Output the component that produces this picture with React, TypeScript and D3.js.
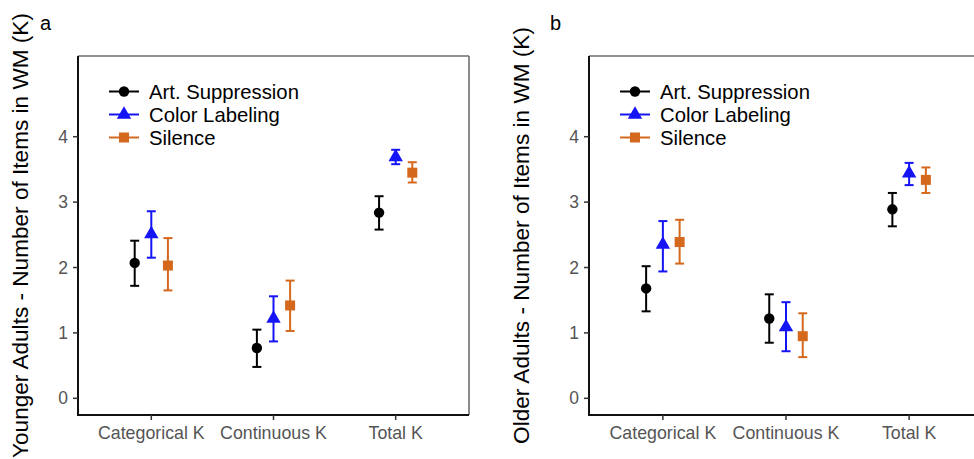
import React from "react";
import * as d3 from "d3";

const categories = ["Categorical K", "Continuous K", "Total K"];
const conditions = ["Art. Suppression", "Color Labeling", "Silence"];
const yTicks = [0, 1, 2, 3, 4];

// Younger adults: mean, lower, upper per condition (rows) x category (cols)
const youngMean = [
  [2.07, 0.77, 2.84],
  [2.51, 1.22, 3.69],
  [2.03, 1.42, 3.45],
];
const youngLow = [
  [1.72, 0.48, 2.58],
  [2.15, 0.87, 3.58],
  [1.65, 1.03, 3.30],
];
const youngHigh = [
  [2.41, 1.05, 3.09],
  [2.86, 1.56, 3.80],
  [2.45, 1.80, 3.61],
];
// Older adults
const oldMean = [
  [1.68, 1.22, 2.89],
  [2.35, 1.09, 3.44],
  [2.39, 0.95, 3.34],
];
const oldLow = [
  [1.33, 0.85, 2.63],
  [1.94, 0.72, 3.26],
  [2.06, 0.63, 3.14],
];
const oldHigh = [
  [2.02, 1.59, 3.14],
  [2.71, 1.47, 3.60],
  [2.73, 1.30, 3.53],
];

const colors = ["#000000", "#1414F5", "#D4691E"];
const FONT = "'Liberation Sans', Arial, Helvetica, sans-serif";

function Marker({ kind, x, y, color }: { kind: number; x: number; y: number; color: string }) {
  if (kind === 0) return <circle cx={x} cy={y} r={5.2} fill={color} />;
  if (kind === 1) {
    const sym = d3.symbol().type(d3.symbolTriangle).size(90)();
    return <path d={sym || ""} transform={`translate(${x},${y})`} fill={color} />;
  }
  return <rect x={x - 5} y={y - 5} width={10} height={10} fill={color} />;
}

function Panel({
  x0, x1, yTitle, label, labelX, titleX, mean, low, high, showRight,
}: {
  x0: number; x1: number; yTitle: string; label: string; labelX: number; titleX: number;
  mean: number[][]; low: number[][]; high: number[][]; showRight: boolean;
}) {
  const y0 = 56, y1 = 415;
  const y = d3.scaleLinear().domain([-0.255, 5.234]).range([y1, y0]);
  const x = d3.scalePoint<string>().domain(categories).range([x0, x1]).padding(0.6);
  const dodge = x.step() * 0.136;
  const cap = 4.5;
  return (
    <g>
      {/* top/right border */}
      <line x1={x0} x2={x1} y1={y0} y2={y0} stroke="#6e6e6e" strokeWidth={1.6} />
      {showRight && <line x1={x1} x2={x1} y1={y0} y2={y1} stroke="#6e6e6e" strokeWidth={1.6} />}
      {/* axes */}
      <line x1={x0} x2={x1} y1={y1} y2={y1} stroke="#111" strokeWidth={2} />
      <line x1={x0} x2={x0} y1={y0} y2={y1 + 1} stroke="#111" strokeWidth={2} />
      {yTicks.map((t) => (
        <g key={t}>
          <line x1={x0 - 5} x2={x0} y1={y(t)} y2={y(t)} stroke="#333" strokeWidth={1.5} />
          <text x={x0 - 10} y={y(t)} dy="0.35em" textAnchor="end" fontSize={17.5} fill="#555" fontFamily={FONT}>
            {t}
          </text>
        </g>
      ))}
      {categories.map((c) => (
        <g key={c}>
          <line x1={x(c)!} x2={x(c)!} y1={y1} y2={y1 + 5} stroke="#333" strokeWidth={1.5} />
          <text x={x(c)!} y={y1 + 24} textAnchor="middle" fontSize={17.8} fill="#555" fontFamily={FONT}>
            {c}
          </text>
        </g>
      ))}
      <text
        transform={`translate(${titleX},${(y0 + y1) / 2}) rotate(-90)`}
        textAnchor="middle"
        fontSize={22.6}
        fill="#000"
        fontFamily={FONT}
      >
        {yTitle}
      </text>
      <text x={labelX} y={30} fontSize={20} fill="#000" fontFamily={FONT}>{label}</text>
      {/* data */}
      {conditions.map((cond, k) =>
        categories.map((c, j) => {
          const cx = x(c)! + (k - 1) * dodge;
          const col = colors[k];
          return (
            <g key={cond + c}>
              <line x1={cx} x2={cx} y1={y(low[k][j])} y2={y(high[k][j])} stroke={col} strokeWidth={2} />
              <line x1={cx - cap} x2={cx + cap} y1={y(low[k][j])} y2={y(low[k][j])} stroke={col} strokeWidth={2} />
              <line x1={cx - cap} x2={cx + cap} y1={y(high[k][j])} y2={y(high[k][j])} stroke={col} strokeWidth={2} />
              <Marker kind={k} x={cx} y={y(mean[k][j])} color={col} />
            </g>
          );
        })
      )}
      {/* legend */}
      {conditions.map((cond, k) => {
        const ly = 91.5 + k * 23;
        const lx = x0 + 31;
        return (
          <g key={cond}>
            <line x1={lx} x2={lx + 30} y1={ly} y2={ly} stroke={colors[k]} strokeWidth={2} />
            <Marker kind={k} x={lx + 15} y={ly} color={colors[k]} />
            <text x={lx + 40} y={ly} dy="0.35em" fontSize={20.3} fill="#000" fontFamily={FONT}>
              {cond}
            </text>
          </g>
        );
      })}
    </g>
  );
}

export default function App() {
  return (
    <svg width={974} height={459} style={{ position: "absolute", left: 0, top: 0, background: "#fff" }}>
      <rect width={974} height={459} fill="#fff" />
      <Panel
        x0={78} x1={469} yTitle="Younger Adults - Number of Items in WM (K)" label="a" labelX={40}
        titleX={28} mean={youngMean} low={youngLow} high={youngHigh} showRight={true}
      />
      <Panel
        x0={589} x1={983} yTitle="Older Adults - Number of Items in WM (K)" label="b" labelX={550}
        titleX={529} mean={oldMean} low={oldLow} high={oldHigh} showRight={false}
      />
    </svg>
  );
}
